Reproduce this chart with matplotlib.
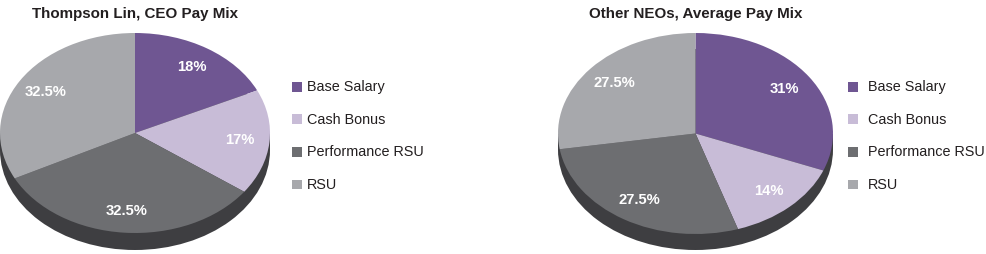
import matplotlib.pyplot as plt
from matplotlib.patches import Ellipse, Rectangle

plt.rcParams['font.family'] = ['Liberation Sans', 'DejaVu Sans']

categories = ['Base Salary', 'Cash Bonus', 'Performance RSU', 'RSU']
ceo_titles = 'Thompson Lin, CEO Pay Mix'
ceo_mix = [18, 17, 32.5, 32.5]
neo_titles = 'Other NEOs, Average Pay Mix'
neo_mix = [31, 14, 27.5, 27.5]

colors = ['#6f5692', '#c8bcd7', '#6d6e71', '#a7a8ac']
rim_color = '#3e3e41'
text_color = '#231f20'

W, H = 986, 254
fig = plt.figure(figsize=(W / 100, H / 100), dpi=100)


def px(x, y):
    # pixel position (from top-left) -> figure fraction
    return x / W, 1 - y / H


def draw_pie(values, title, cx, cy, rx, ry, depth, leg_x, txt_x):
    ax = fig.add_axes([(cx - rx) / W, (H - cy - ry) / H, 2 * rx / W, 2 * ry / H])
    d = depth / ry
    # side of the tilted disc
    ax.add_patch(Ellipse((0, -d), 2, 2, color=rim_color, lw=0, zorder=0, clip_on=False))
    ax.add_patch(Rectangle((-1, -d), 2, d, color=rim_color, lw=0, zorder=0, clip_on=False))
    wedges, texts = ax.pie(values, colors=colors, startangle=90, counterclock=False,
                           labels=[f'{v:g}%' for v in values], labeldistance=0.78,
                           wedgeprops=dict(linewidth=0, zorder=2),
                           textprops=dict(color='white', ha='center', va='center',
                                          fontsize=10.6, fontweight='bold'))
    for w in wedges:
        w.set_clip_on(False)
    ax.set_aspect('auto')
    ax.set_xlim(-1, 1)
    ax.set_ylim(-1, 1)
    ax.axis('off')

    fig.text(*px(cx, 18.3), title, ha='center', va='baseline',
             fontsize=10.9, fontweight='bold', color=text_color)

    for i, (name, c) in enumerate(zip(categories, colors)):
        base = 91.5 + i * 32.5
        x0, y0 = px(leg_x, base)
        fig.patches.append(Rectangle((x0, y0), 10 / W, 9.5 / H, color=c, lw=0,
                                     transform=fig.transFigure, figure=fig))
        fig.text(*px(txt_x, base), name, ha='left', va='baseline',
                 fontsize=10.4, color=text_color)


draw_pie(ceo_mix, ceo_titles, 135, 133, 135, 100, 17, 292, 307)
draw_pie(neo_mix, neo_titles, 695.5, 133.5, 137.5, 100.5, 16, 848, 868)

fig.savefig('out.png', dpi=100)
